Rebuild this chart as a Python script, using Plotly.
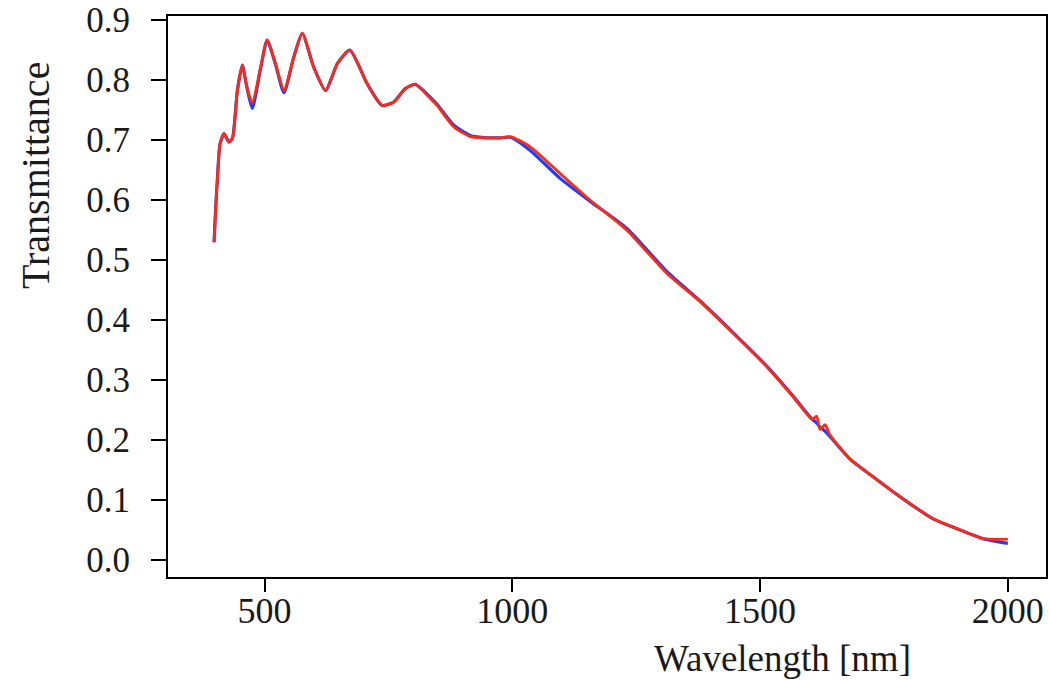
import plotly.graph_objects as go

# Wavelength in nm (shared by both series)
wavelength = [398, 401, 405, 410, 418, 428, 435, 445, 455, 464, 475, 492, 505, 522,
              539, 559, 576, 599, 623, 647, 672, 707, 737, 761, 784, 804, 835, 848,
              882, 915, 950, 976, 996, 1036, 1097, 1157, 1231, 1312, 1379, 1446,
              1514, 1567, 1605, 1614, 1621, 1631, 1640, 1681, 1728, 1782, 1849,
              1896, 1950, 2000]

# Transmittance series (blue drawn first, red on top)
blue_T = [0.530, 0.583, 0.640, 0.694, 0.711, 0.697, 0.703, 0.783, 0.825, 0.789, 0.753,
          0.820, 0.867, 0.826, 0.779, 0.839, 0.878, 0.822, 0.783, 0.828, 0.850, 0.794,
          0.758, 0.764, 0.786, 0.793, 0.771, 0.760, 0.725, 0.708, 0.704, 0.704, 0.705,
          0.683, 0.636, 0.598, 0.553, 0.481, 0.432, 0.379, 0.323, 0.273, 0.235, 0.229,
          0.222, 0.215, 0.207, 0.169, 0.139, 0.106, 0.069, 0.053, 0.036, 0.028]
red_T = [0.530, 0.583, 0.640, 0.694, 0.711, 0.697, 0.703, 0.783, 0.825, 0.789, 0.762,
         0.822, 0.867, 0.828, 0.783, 0.839, 0.878, 0.822, 0.783, 0.828, 0.850, 0.794,
         0.758, 0.764, 0.786, 0.793, 0.769, 0.758, 0.722, 0.706, 0.704, 0.704, 0.706,
         0.689, 0.644, 0.600, 0.550, 0.478, 0.431, 0.378, 0.322, 0.272, 0.235, 0.240,
         0.218, 0.226, 0.210, 0.169, 0.139, 0.106, 0.069, 0.053, 0.036, 0.035]

x_ticks = [500, 1000, 1500, 2000]
y_ticks = [0.0, 0.1, 0.2, 0.3, 0.4, 0.5, 0.6, 0.7, 0.8, 0.9]

FONT = "Liberation Serif"
TXT = "#1a1a1a"

W, H = 1050, 680
L, R, T, B = 168, 4, 16, 103
PW, PH = W - L - R, H - T - B

fig = go.Figure()
fig.add_trace(go.Scatter(x=wavelength, y=blue_T, mode="lines",
                         line=dict(color="#1f3cff", width=3.2, shape="spline", smoothing=0.6),
                         showlegend=False))
fig.add_trace(go.Scatter(x=wavelength, y=red_T, mode="lines",
                         line=dict(color="#ff2a10", width=2.8, shape="spline", smoothing=0.6),
                         showlegend=False))

axis_common = dict(showline=True, linecolor="black", linewidth=2, mirror=True,
                   ticks="outside", tickwidth=2, tickcolor="black",
                   showgrid=False, zeroline=False, automargin=False,
                   ticklabeloverflow="allow")

fig.update_layout(
    width=W, height=H,
    margin=dict(l=L, r=R, t=T, b=B),
    plot_bgcolor="white", paper_bgcolor="white",
    xaxis=dict(range=[305, 2077], tickvals=x_ticks, ticktext=[str(v) for v in x_ticks],
               ticklen=13, ticklabelstandoff=-12,
               tickfont=dict(family=FONT, size=36, color=TXT), **axis_common),
    yaxis=dict(range=[-0.028, 0.907], tickvals=y_ticks,
               ticktext=[f"{v:.1f}" for v in y_ticks],
               ticklen=15, ticklabelstandoff=14,
               tickfont=dict(family=FONT, size=35, color=TXT), **axis_common),
    annotations=[
        dict(text="Wavelength [nm]", xref="paper", yref="paper",
             x=(782 - L) / PW, y=-(658 - (T + PH)) / PH, xanchor="center", yanchor="middle",
             showarrow=False, font=dict(family=FONT, size=37, color=TXT)),
        dict(text="Transmittance", xref="paper", yref="paper",
             x=-(L - 36) / PW, y=((T + PH) - 176) / PH, xanchor="center", yanchor="middle",
             textangle=-90, showarrow=False, font=dict(family=FONT, size=40, color=TXT)),
    ],
)

# remove the browser's default 8 px body margin so the figure fills the window exactly
fig.write_html("out.html",
               config={"displayModeBar": False},
               post_script="document.body.style.margin='0';document.body.style.overflow='hidden';")
